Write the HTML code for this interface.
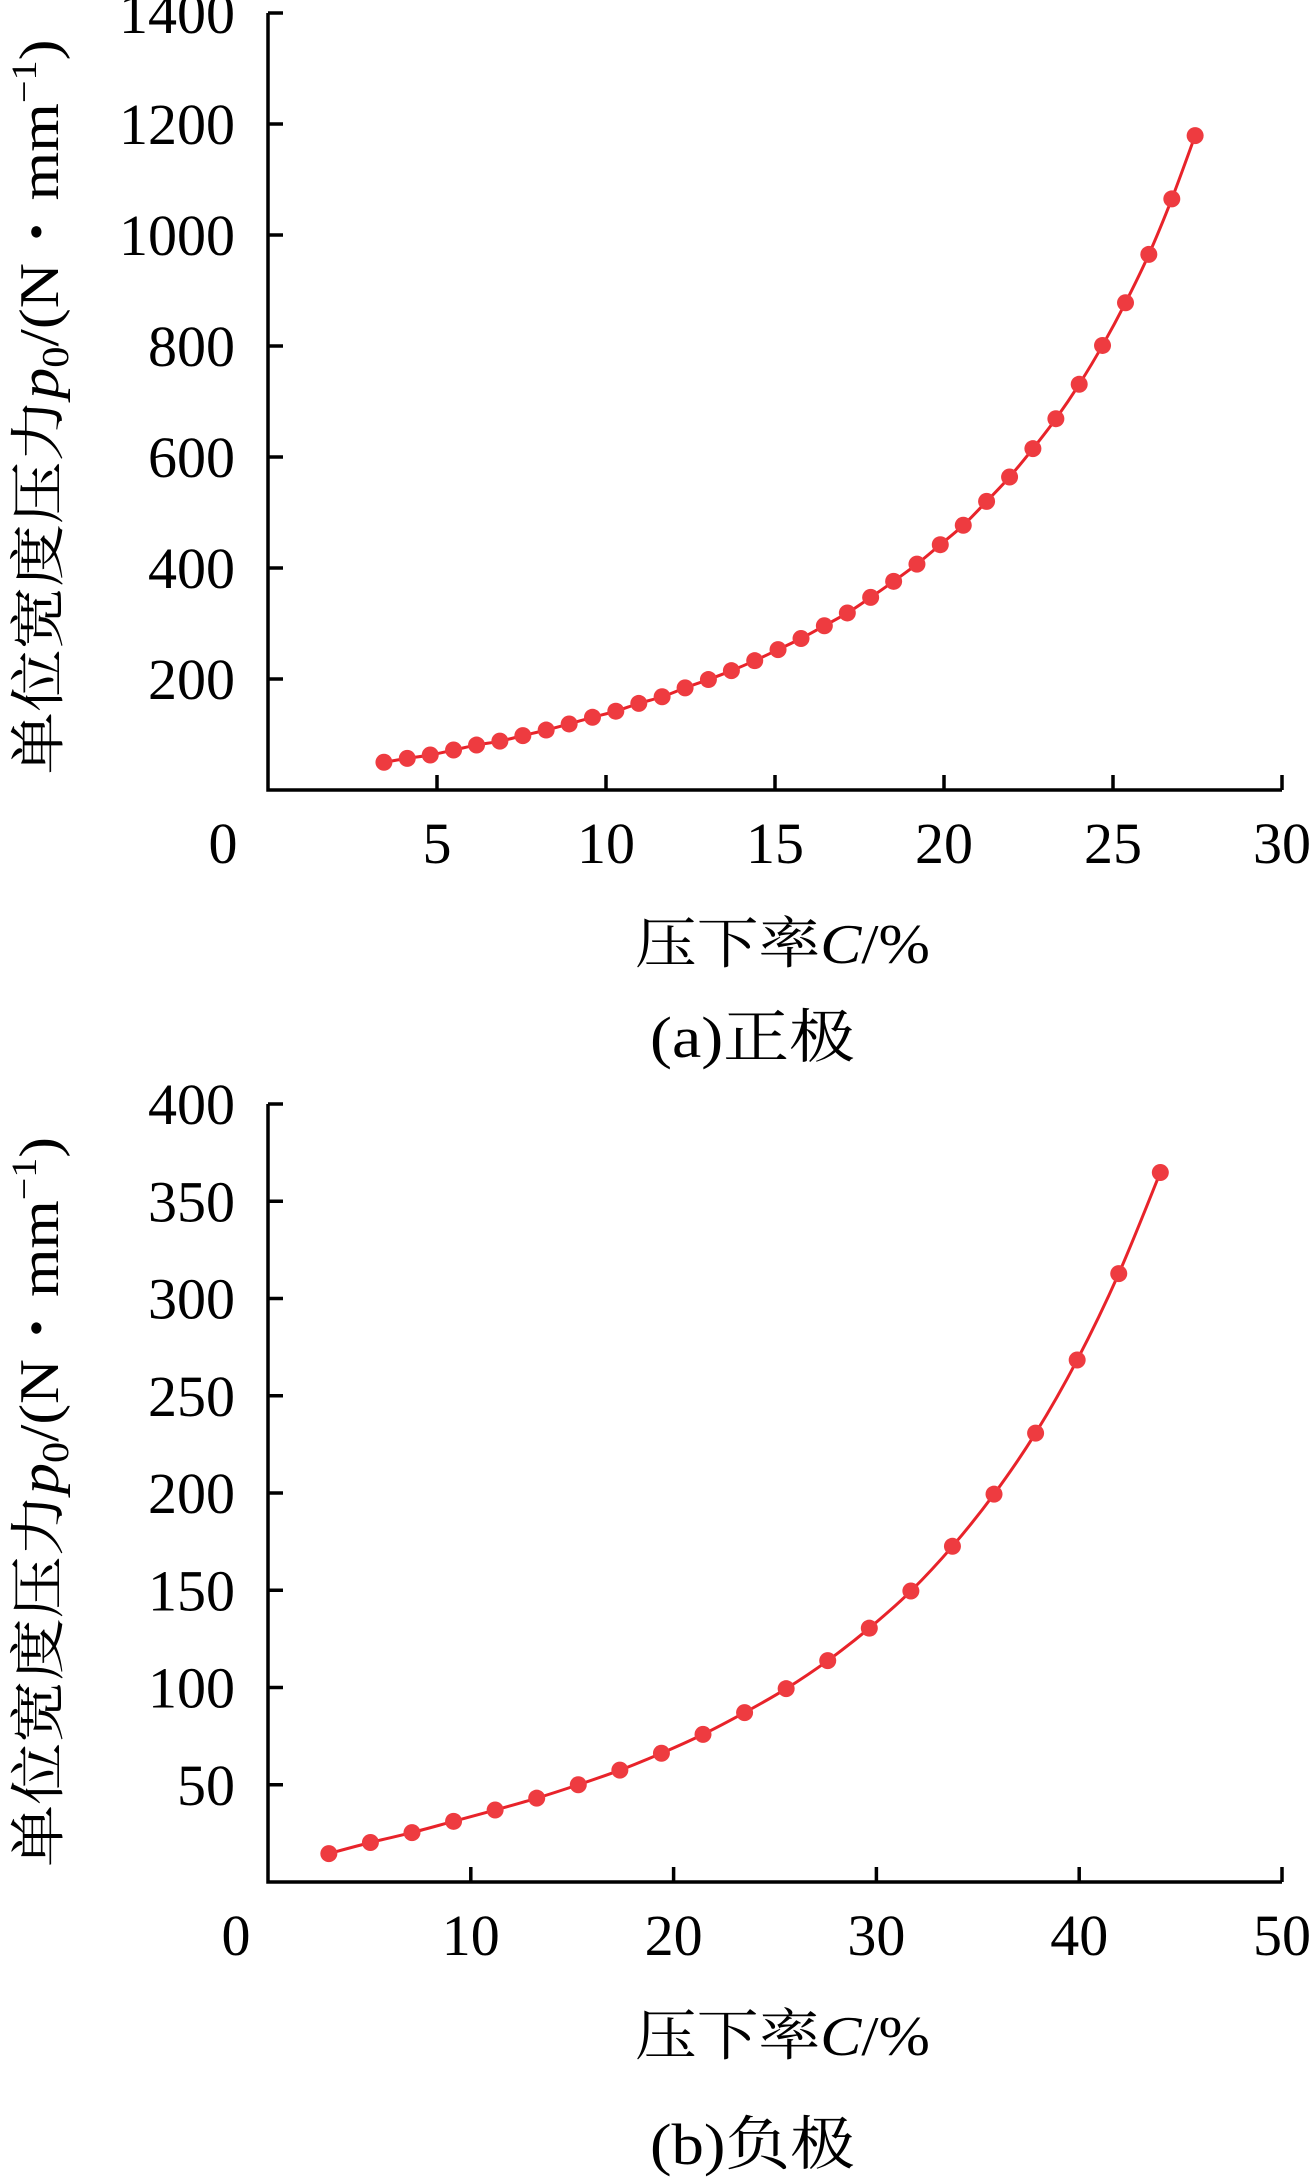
<!DOCTYPE html>
<html><head><meta charset="utf-8"><style>
html,body{margin:0;padding:0;background:#fff;}
svg{display:block;}
text{font-family:"Liberation Serif","Noto Serif CJK SC",serif;fill:#000;}
</style></head><body>
<svg id="svg" width="1312" height="2179" viewBox="0 0 1312 2179"></svg>
<script>
const xTicksA = [0,5,10,15,20,25,30];
const yTicksA = [200,400,600,800,1000,1200,1400];
const xA = [3.43,4.12,4.80,5.49,6.17,6.86,7.54,8.23,8.91,9.60,10.29,10.97,11.66,12.34,13.03,13.71,14.40,15.09,15.77,16.46,17.14,17.83,18.51,19.20,19.89,20.57,21.26,21.94,22.63,23.31,24.00,24.69,25.37,26.06,26.74,27.43];
const yA = [50,57,63,72,81,88,98,108,119,131,142,156,168,184,199,215,233,253,273,296,319,347,376,407,442,477,520,564,615,669,731,801,878,965,1065,1179];
const xTicksB = [0,10,20,30,40,50];
const yTicksB = [50,100,150,200,250,300,350,400];
const xB = [3.0,5.05,7.1,9.15,11.2,13.25,15.3,17.35,19.4,21.45,23.5,25.55,27.6,29.65,31.7,33.75,35.8,37.85,39.9,41.95,44.0];
const yB = [14.6,20.3,25.4,31.2,37,43.1,50,57.5,66.2,75.9,87.1,99.4,113.8,130.5,149.6,172.6,199.4,230.8,268.4,312.8,364.8];

const NS='http://www.w3.org/2000/svg';
const svg=document.getElementById('svg');
function mk(tag,attrs,parent){const e=document.createElementNS(NS,tag);for(const k in attrs)e.setAttribute(k,attrs[k]);(parent||svg).appendChild(e);return e;}

function drawChart(o){
  const g=mk('g',{});
  
  
  const X=v=>o.x0+(v-o.xmin)/(o.xmax-o.xmin)*(o.x1-o.x0);
  const Y=v=>o.y0-(v-o.ymin)/(o.ymax-o.ymin)*(o.y0-o.y1);
  const ax=mk('path',{d:`M${o.x0},${o.y1} V${o.y0} H${o.x1}`,stroke:'#000','stroke-width':3.5,fill:'none'},g);
  
  
  o.yt.forEach(v=>{
    const t=mk('line',{x1:o.x0,x2:o.x0+15,y1:Y(v),y2:Y(v),stroke:'#000','stroke-width':3.5},g);
    
    
    const l=mk('text',{x:o.x0-33,y:Y(v)+20,'text-anchor':'end','font-size':58},g);
    l.textContent=v;
    
    
  });
  o.xt.forEach(v=>{
    if(v!==o.xmin){
      const t=mk('line',{x1:X(v),x2:X(v),y1:o.y0,y2:o.y0-15,stroke:'#000','stroke-width':3.5},g);
      
      
    }
    const lx=v===o.xmin?o.zeroX:X(v);
    const l=mk('text',{x:lx,y:o.y0+73,'text-anchor':'middle','font-size':58},g);
    l.textContent=v;
    
    
  });
  // smooth curve
  const P=o.xs.map((v,i)=>[X(v),Y(o.ys[i])]);
  let d=`M${P[0][0]},${P[0][1]}`;
  for(let i=0;i<P.length-1;i++){
    const p0=P[i-1]||P[i],p1=P[i],p2=P[i+1],p3=P[i+2]||P[i+1];
    const c1=[p1[0]+(p2[0]-p0[0])/6,p1[1]+(p2[1]-p0[1])/6];
    const c2=[p2[0]-(p3[0]-p1[0])/6,p2[1]-(p3[1]-p1[1])/6];
    d+=` C${c1[0]},${c1[1]} ${c2[0]},${c2[1]} ${p2[0]},${p2[1]}`;
  }
  const ln=mk('path',{d:d,stroke:'#e8232a','stroke-width':3,fill:'none'},g);
  
  
  P.forEach(p=>{
    const c=mk('circle',{cx:p[0],cy:p[1],r:8.5,fill:'#ee3b40'},g);
    
    
  });
  const yl=mk('text',{transform:`translate(${o.ylx},${o.ylc}) rotate(-90)`,'text-anchor':'middle','font-size':56,textLength:o.yllen,lengthAdjust:'spacingAndGlyphs'},g);
  yl.innerHTML='单位宽度压力<tspan font-style="italic">p</tspan><tspan font-size="38" dy="10">0</tspan><tspan dy="-10">/(N・mm</tspan><tspan font-size="36" dy="-22">−1</tspan><tspan dy="22">)</tspan>';
  
  
  const xl=mk('text',{x:635,y:o.y0+173,'font-size':56,textLength:295,lengthAdjust:'spacingAndGlyphs'},g);
  xl.innerHTML='压下率<tspan font-style="italic">C</tspan>/%';
  
  
  const cap=mk('text',{x:650,y:o.y0+o.capOff,'font-size':58,textLength:205,lengthAdjust:'spacingAndGlyphs'},g);
  cap.textContent=o.cap;
  
  
}

drawChart({name:'chart-positive',x0:268,x1:1282,y0:790,y1:13,xmin:0,xmax:30,ymin:0,ymax:1400,
  xt:xTicksA,yt:yTicksA,xs:xA,ys:yA,zeroX:223,ylx:58,ylc:407,yllen:735,cap:'(a)正极',capOff:267});
drawChart({name:'chart-negative',x0:268,x1:1282,y0:1882,y1:1104,xmin:0,xmax:50,ymin:0,ymax:400,
  xt:xTicksB,yt:yTicksB,xs:xB,ys:yB,zeroX:236,ylx:58,ylc:1502,yllen:730,cap:'(b)负极',capOff:282});
</script>
</body></html>
